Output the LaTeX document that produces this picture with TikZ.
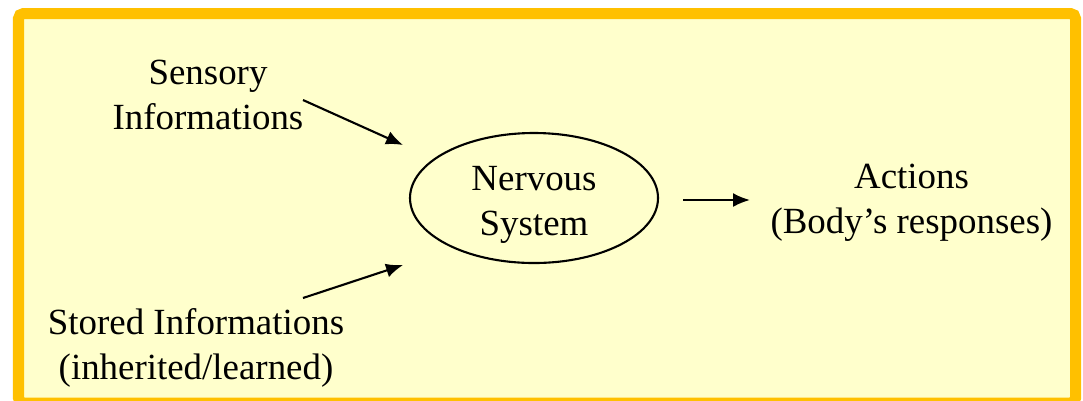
\documentclass[tikz,border=0pt]{standalone}
\usepackage{fontspec}
\setmainfont{Liberation Serif}
\usetikzlibrary{arrows.meta,shapes.geometric}
\definecolor{slidebg}{HTML}{FFFFCC}
\definecolor{slideframe}{HTML}{FFC000}
\begin{document}
\begin{tikzpicture}[font=\fontsize{10.5}{12.9}\selectfont,
	arr/.style={-{Latex[length=0.17cm,width=0.14cm]}, line width=0.6pt}]
		\useasboundingbox (0,0) rectangle (10.83,4);
		\draw [fill=slidebg, draw=slideframe, line width=0.11cm, rounded corners=0.05cm] (0.185,3.865) rectangle (10.755,-0.03);
		\node (sensory) [align=center] at (2.08,3.05) {Sensory\\Informations};
		\node (stored) [align=center] at (1.96,0.52) {Stored Informations\\(inherited/learned)};
		\node (nervous) [draw, ellipse, line width=0.6pt, inner sep=0pt, minimum width=2.48cm, minimum height=1.3cm, align=center] at (5.34,2.02) {\rule{0pt}{0.38cm}Nervous\\System};
		\node (actions) [align=center] at (9.115,1.97) {Actions\\(Body's responses)};
		\coordinate (sensoryout) at (3.03,3.0);
		\coordinate (sensoryin) at (4.03,2.55);
		\coordinate (storedout) at (3.03,1.02);
		\coordinate (storedin) at (4.03,1.35);
		\coordinate (nervousout) at (6.83,2.0);
		\coordinate (actionsin) at (7.5,2.0);
		\draw [arr] (sensoryout) -- (sensoryin);
		\draw [arr] (storedout) -- (storedin);
		\draw [arr] (nervousout) -- (actionsin);
\end{tikzpicture}
\end{document}
